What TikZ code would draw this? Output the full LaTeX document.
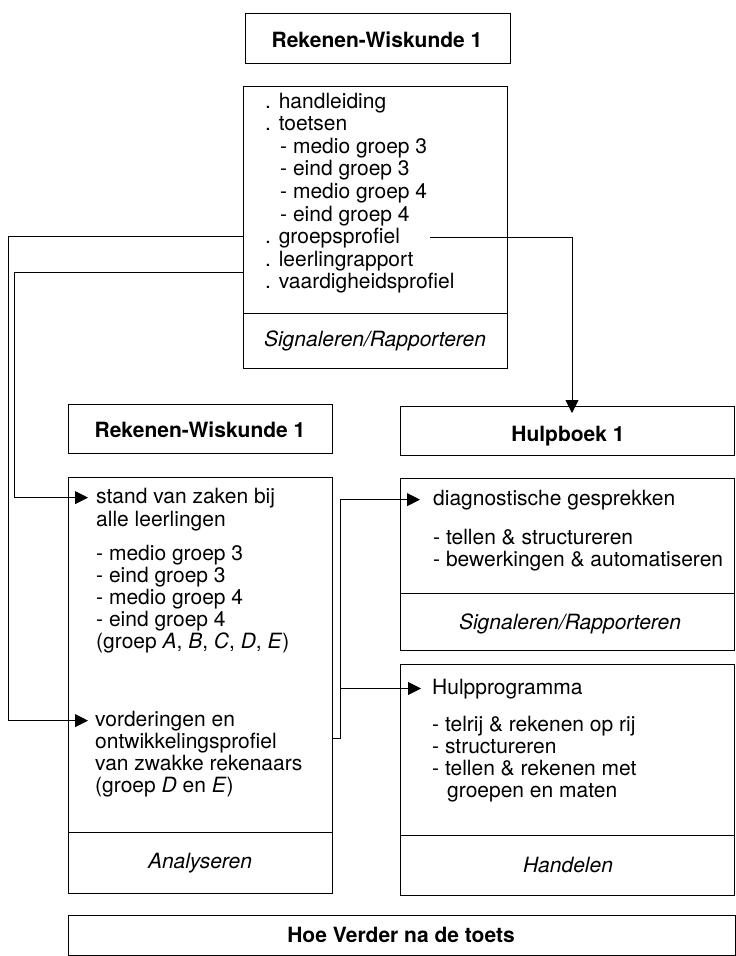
\documentclass[tikz,border=0pt]{standalone}
\usepackage{fontspec}
\setmainfont{TeX Gyre Heros}
\usetikzlibrary{arrows.meta}
\begin{document}
\begin{tikzpicture}[x=1pt,y=-1pt,
  every node/.style={font=\fontsize{21}{22}\selectfont, inner sep=0pt},
  box/.style={draw, line width=0.8pt, anchor=north west},
  ln/.style={line width=0.8pt},
  tl/.style={anchor=base west},
  tc/.style={anchor=base},
  hd/.style={anchor=base, font=\fontsize{21}{22}\selectfont\bfseries},
  it/.style={anchor=base, font=\fontsize{21}{22}\selectfont\itshape},
  arr/.style={line width=0.8pt, -{Triangle[length=13pt,width=13pt]}}]
\useasboundingbox[fill=white] (0,0) rectangle (736,956);

% boxes
\node[box, minimum width=265pt, minimum height=50pt] (t1) at (245,13) {};
\node[box, minimum width=264pt, minimum height=282pt] (b2) at (243,86) {};
\node[box, minimum width=264pt, minimum height=49pt] (h2) at (68,404) {};
\node[box, minimum width=264pt, minimum height=416pt] (b3) at (68,477) {};
\node[box, minimum width=334pt, minimum height=49pt] (h3) at (400,406) {};
\node[box, minimum width=334pt, minimum height=172pt] (b4) at (400,478) {};
\node[box, minimum width=334pt, minimum height=231pt] (b5) at (400,664) {};
\node[box, minimum width=667pt, minimum height=40pt] (b6) at (68,915) {};

% dividers
\draw[ln] (243,313) -- (507,313);
\draw[ln] (68,832) -- (332,832);
\draw[ln] (400,593) -- (734,593);
\draw[ln] (400,835) -- (734,835);

% headings
\node[hd] (t1t) at (377,47) {Rekenen-Wiskunde 1};
\node[hd] (h2t) at (200,437) {Rekenen-Wiskunde 1};
\node[hd] (h3t) at (568,441) {Hulpboek 1};
\node[hd] (b6t) at (401,942) {Hoe Verder na de toets};

% box 2 text
\node[tl] (a1) at (265,108) {. handleiding};
\node[tl] (a2) at (265,130.6) {. toetsen};
\node[tl] (a3) at (280,153.2) {- medio groep 3};
\node[tl] (a4) at (280,175.8) {- eind groep 3};
\node[tl] (a5) at (280,198.4) {- medio groep 4};
\node[tl] (a6) at (280,221) {- eind groep 4};
\node[tl] (a7) at (265,243.6) {. groepsprofiel};
\node[tl] (a8) at (265,266.2) {. leerlingrapport};
\node[tl] (a9) at (265,288.8) {. vaardigheidsprofiel};
\node[it] (a10) at (375,346) {Signaleren/Rapporteren};

% box 3 text
\node[tl] (s1) at (96,503) {stand van zaken bij};
\node[tl] (s2) at (96,526) {alle leerlingen};
\node[tl] (s3) at (96,560) {- medio groep 3};
\node[tl] (s4) at (96,582) {- eind groep 3};
\node[tl] (s5) at (96,604) {- medio groep 4};
\node[tl] (s6) at (96,626) {- eind groep 4};
\node[tl] (s7) at (96,648) {(groep \textit{A}, \textit{B}, \textit{C}, \textit{D}, \textit{E})};
\node[tl] (v1) at (95,726) {vorderingen en};
\node[tl] (v2) at (95,748) {ontwikkelingsprofiel};
\node[tl] (v3) at (95,770) {van zwakke rekenaars};
\node[tl] (v4) at (95,792) {(groep \textit{D} en \textit{E})};
\node[it] (an) at (200,868) {Analyseren};

% box 4 text
\node[tl] (d1) at (433,505) {diagnostische gesprekken};
\node[tl] (d2) at (433,544) {- tellen \& structureren};
\node[tl] (d3) at (433,566) {- bewerkingen \& automatiseren};
\node[it] (d4) at (570,629) {Signaleren/Rapporteren};

% box 5 text
\node[tl] (p1) at (432,694) {Hulpprogramma};
\node[tl] (p2) at (432,731) {- telrij \& rekenen op rij};
\node[tl] (p3) at (432,753) {- structureren};
\node[tl] (p4) at (432,775) {- tellen \& rekenen met};
\node[tl] (p5) at (447,797) {groepen en maten};
\node[it] (hd) at (568,872) {Handelen};

% connectors
\coordinate (gpR) at (430,237);
\coordinate (gpRc) at (572,237);
\coordinate (gpRe) at (572,413);
\coordinate (gpL) at (243,236);
\coordinate (gpLc) at (8,236);
\coordinate (lrL) at (243,272);
\coordinate (lrLc) at (14,272);
\coordinate (brS) at (332,738);
\coordinate (brC) at (340,738);
\coordinate (brM) at (340,688.5);

\draw[arr] (gpR) -- (gpRc) -- (gpRe);
\draw[arr] (gpL) -- (gpLc) |- ([xshift=-7pt]v1.west);
\draw[arr] (lrL) -- (lrLc) |- ([xshift=-8pt]s1.west);
\draw[arr] (brS) -- (brC) |- ([xshift=-13pt]d1.west);
\draw[arr] (brM) -- ([xshift=-11pt]p1.west |- brM);
\end{tikzpicture}
\end{document}
